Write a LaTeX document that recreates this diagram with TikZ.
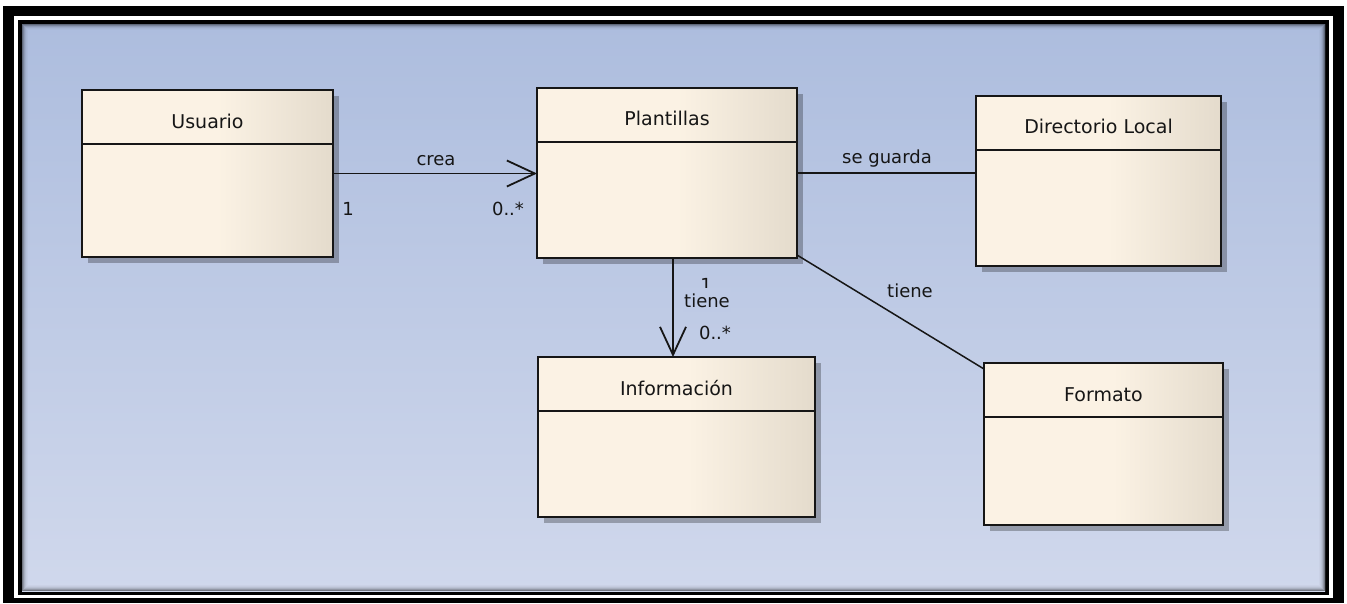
\documentclass[tikz,border=0pt]{standalone}
\usepackage{fontspec}
\setmainfont{DejaVu Sans}
\usetikzlibrary{arrows.meta,shadows,calc}

\definecolor{ink}{HTML}{161616}
\definecolor{panelTop}{RGB}{173,189,222}
\definecolor{panelBot}{RGB}{208,216,236}
\colorlet{panelMid}{panelTop!52!panelBot}
\definecolor{classL}{RGB}{251,242,228}
\definecolor{classR}{RGB}{228,219,204}

% cream fill: flat on the left, darkening towards the right edge
\pgfdeclarehorizontalshading{classfill}{100bp}{%
  color(0bp)=(classL); color(25bp)=(classL); color(52bp)=(classL);
  color(75bp)=(classR); color(100bp)=(classR)}

\tikzset{
  umlclass/.style={rectangle, anchor=north west, draw=ink, line width=2pt,
    outer sep=0pt, inner sep=0pt, shading=classfill,
    drop shadow={shadow xshift=6pt, shadow yshift=-6pt, fill=black, opacity=0.27},
    path picture={\draw[ink, line width=2pt]
      ([yshift=-54pt,xshift=-2pt]path picture bounding box.north west) --
      ([yshift=-54pt,xshift=2pt]path picture bounding box.north east);}},
  classtitle/.style={font=\fontsize{19}{22}\selectfont, text=ink, inner sep=0pt, anchor=base},
  lbl/.style={font=\fontsize{18}{21}\selectfont, text=ink, inner sep=0pt, anchor=base},
  assoc/.style={draw=ink, line width=1.8pt},
  openhead/.style={-{Straight Barb[length=28pt, width=26pt]}}
}

\begin{document}
\begin{tikzpicture}[x=1pt, y=-1pt]
\useasboundingbox (0,0) rectangle (1347,603);

% double frame around the panel
\fill[white] (0,0) rectangle (1347,603);
\fill[black] (3,6) rectangle (1344,603);
\fill[white] (14,16) rectangle (1333,598);
\fill[black] (18,20) rectangle (1329,595);
\shade[top color=panelTop, bottom color=panelBot] (22,24) rectangle (1325,591);
\foreach \i/\o in {0.5/0.45, 1.5/0.3, 2.5/0.18, 3.5/0.1, 4.5/0.05, 5.5/0.025}
  \draw[black, opacity=\o, line width=1pt] (22+\i,24+\i) rectangle (1325-\i,591-\i);

% classes
\node[umlclass, minimum width=251pt, minimum height=167pt] (usuario)     at (82,90)   {};
\node[umlclass, minimum width=260pt, minimum height=170pt] (plantillas)  at (537,88)  {};
\node[umlclass, minimum width=245pt, minimum height=170pt] (directorio)  at (976,96)  {};
\node[umlclass, minimum width=277pt, minimum height=160pt] (informacion) at (538,357) {};
\node[umlclass, minimum width=239pt, minimum height=162pt] (formato)     at (984,363) {};

\node[classtitle] (usuarioT)     at ([yshift=-38pt]usuario.north)     {Usuario};
\node[classtitle] (plantillasT)  at ([yshift=-37pt]plantillas.north)  {Plantillas};
\node[classtitle] (directorioT)  at ([yshift=-37pt]directorio.north)  {Directorio Local};
\node[classtitle] (informacionT) at ([yshift=-38pt]informacion.north) {Información};
\node[classtitle] (formatoT)     at ([yshift=-38pt]formato.north)     {Formato};

% associations
\draw[assoc, openhead] (usuario.east) -- (usuario.east -| plantillas.west);
\draw[assoc] (plantillas.east) -- (plantillas.east -| directorio.west);
\draw[assoc, openhead] ([xshift=6pt]plantillas.south) -- ([xshift=6pt]plantillas.south |- informacion.north);
\draw[assoc, line width=1.5pt] ([yshift=3pt]plantillas.south east) -- ([yshift=-6pt]formato.north west);

% association names and multiplicities
\node[lbl] (creaL)     at (436,165) {crea};
\node[lbl] (creaSrc)   at (348,215) {1};
\node[lbl] (creaDst)   at (508,215) {0..*};
\node[lbl] (guardaL)   at (887,163) {se guarda};
\node[lbl] (tieneSrc)  at (706,291) {1};
\node[lbl, fill=panelMid, inner xsep=1pt, inner ysep=5pt] (tieneL) at (707,307) {tiene};
\node[lbl] (tieneDst)  at (715,339) {0..*};
\node[lbl] (formatoL)  at (910,297) {tiene};
\end{tikzpicture}
\end{document}
